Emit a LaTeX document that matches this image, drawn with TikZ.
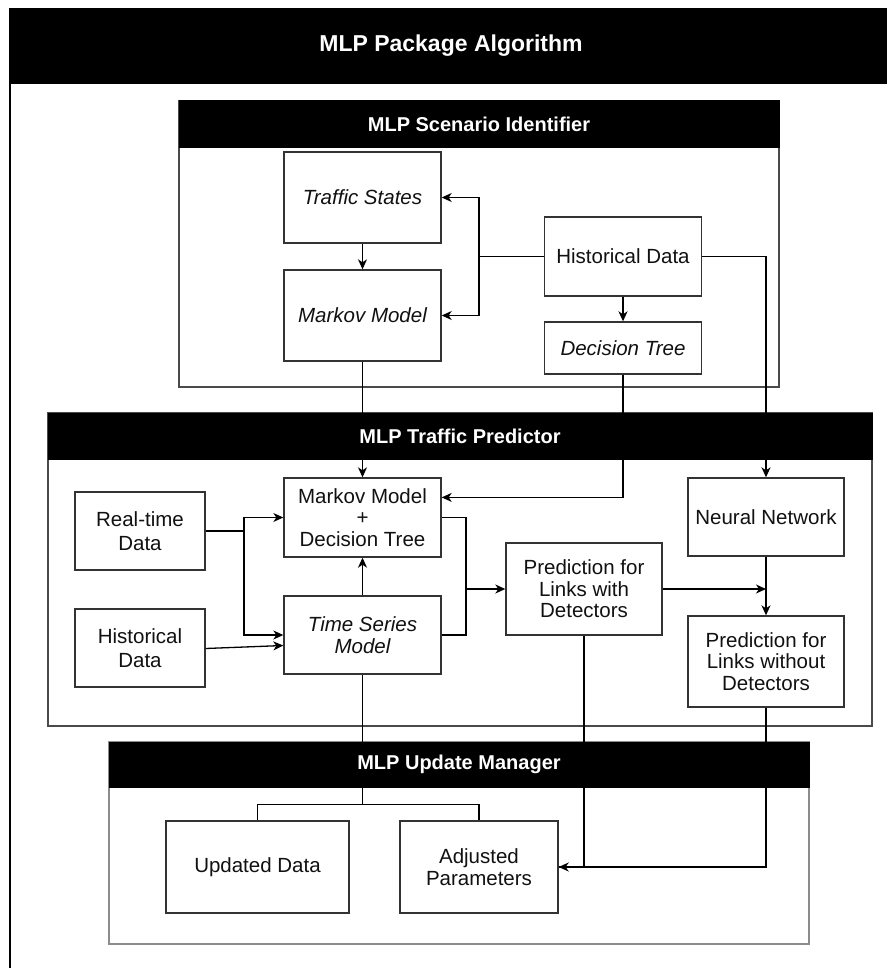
\documentclass[tikz,border=0pt]{standalone}
\usepackage{fontspec}
\setmainfont{Liberation Sans}
\usetikzlibrary{arrows.meta,calc}
\definecolor{boxc}{HTML}{333333}
\definecolor{contc}{HTML}{4A4A4A}
\definecolor{umc}{HTML}{8C8C8C}
\definecolor{txtc}{HTML}{111111}
\begin{document}
\begin{tikzpicture}[x=1pt,y=-1pt,
  box/.style={draw=boxc, line width=1.4pt, fill=white, inner sep=0pt, align=center,
    text=txtc, font=\fontsize{20.5}{21.5}\selectfont},
  ibox/.style={box, font=\fontsize{20.5}{21.5}\selectfont\itshape},
  cont/.style={draw=contc, line width=1.4pt, fill=white, inner sep=0pt},
  hdr/.style={draw=black, fill=black, line width=1pt, inner sep=0pt, text=white,
    font=\fontsize{20}{22}\selectfont\bfseries},
  conn/.style={draw=black, line width=1.3pt},
  arr/.style={conn, -{Stealth[length=10pt,width=9pt,inset=3pt]}}
]
\useasboundingbox (0,0) rectangle (886,968);

% outer frame
\node[draw=black, line width=1.3pt, inner sep=0pt, minimum width=884pt, minimum height=910pt] (outer) at (452,528) {};

% containers
\node[cont, minimum width=600pt, minimum height=286pt] (si) at (479,244) {};
\node[cont, minimum width=824pt, minimum height=313pt] (tp) at (460,569.5) {};
\node[cont, draw=umc, line width=1.8pt, minimum width=700pt, minimum height=202pt] (um) at (459,843) {};

% scenario identifier boxes
\node[ibox, minimum width=157pt, minimum height=91pt] (ts) at (362.5,197.5) {Traffic States};
\node[ibox, minimum width=157pt, minimum height=91pt] (mm) at (362.5,315.5) {Markov Model};
\node[box, minimum width=157pt, minimum height=79pt] (hd) at (623,256.5) {Historical Data};
\node[ibox, minimum width=157pt, minimum height=52pt] (dt) at (623,348) {Decision Tree};

% traffic predictor boxes
\node[box, minimum width=130pt, minimum height=78pt] (rt) at (140,531) {Real-time\\[2pt]Data};
\node[box, minimum width=130pt, minimum height=78pt] (hd2) at (140,648) {Historical\\[2pt]Data};
\node[box, minimum width=157pt, minimum height=79pt] (mdt) at (362.5,517.5) {Markov Model\\+\\Decision Tree};
\node[ibox, minimum width=157pt, minimum height=78pt] (tsm) at (362.5,635) {Time Series\\Model};
\node[box, minimum width=156pt, minimum height=92pt] (pw) at (584,589) {Prediction for\\Links with\\Detectors};
\node[box, minimum width=156pt, minimum height=78pt] (nn) at (766,517) {Neural Network};
\node[box, minimum width=156pt, minimum height=91pt] (pwo) at (766,661.5) {Prediction for\\Links without\\Detectors};

% update manager boxes
\node[box, minimum width=183pt, minimum height=92pt] (ud) at (257.5,867) {Updated Data};
\node[box, minimum width=158pt, minimum height=92pt] (ap) at (479,867) {Adjusted\\Parameters};

% junction coordinates
\coordinate (j1) at (479,256.5);
\coordinate (j2) at (244,531);
\coordinate (ja) at (466,517.5);
\coordinate (jb) at (466,635);
\coordinate (jc) at (466,589);
\coordinate (jd) at (766,589);
\coordinate (je) at (362.5,805);
\coordinate (dtin) at ($(mdt.north east)!0.25!(mdt.south east)$);
\coordinate (tsin) at ($(tsm.west)+(0,10.5)$);

% scenario identifier connectors
\draw[conn] (hd.west) -- (j1);
\draw[arr] (j1) |- (ts.east);
\draw[arr] (j1) |- (mm.east);
\draw[arr] (ts.south) -- (mm.north);
\draw[arr] (hd.south) -- (dt.north);
\draw[arr] (hd.east) -| (nn.north);

% into the traffic predictor
\draw[arr] (mm.south) -- (mdt.north);
\draw[arr] (dt.south) |- (dtin);

% traffic predictor connectors
\draw[conn] (rt.east) -- (j2);
\draw[arr] (j2) |- (mdt.west);
\draw[arr] (j2) |- (tsm.west);
\draw[arr] ($(hd2.east)+(0,0.5)$) -- (tsin);
\draw[arr] (tsm.north) -- (mdt.south);
\draw[conn] (mdt.east) -- (ja) -- (jb) -- (tsm.east);
\draw[arr] (jc) -- (pw.west);
\draw[arr] (pw.east) -- (jd);
\draw[arr] (nn.south) -- (pwo.north);

% into the update manager
\draw[conn] (tsm.south) -- (je);
\draw[conn] (ud.north) -- ++(0,-16) -| (ap.north);
\draw[conn] (pwo.south) |- (ap.east);
\draw[arr] (pw.south) |- (ap.east);

% headers (drawn over the connectors)
\node[hdr, minimum width=884pt, minimum height=75pt, font=\fontsize{23}{25}\selectfont\bfseries] (title) at (451,46) {MLP Package Algorithm};
\node[hdr, minimum width=600pt, minimum height=47pt] (sihead) at (479,124.5) {MLP Scenario Identifier};
\node[hdr, minimum width=824pt, minimum height=46pt] (tphead) at (460,436) {MLP Traffic Predictor};
\node[hdr, minimum width=700pt, minimum height=45pt] (umhead) at (459,764.5) {MLP Update Manager};
\end{tikzpicture}
\end{document}
